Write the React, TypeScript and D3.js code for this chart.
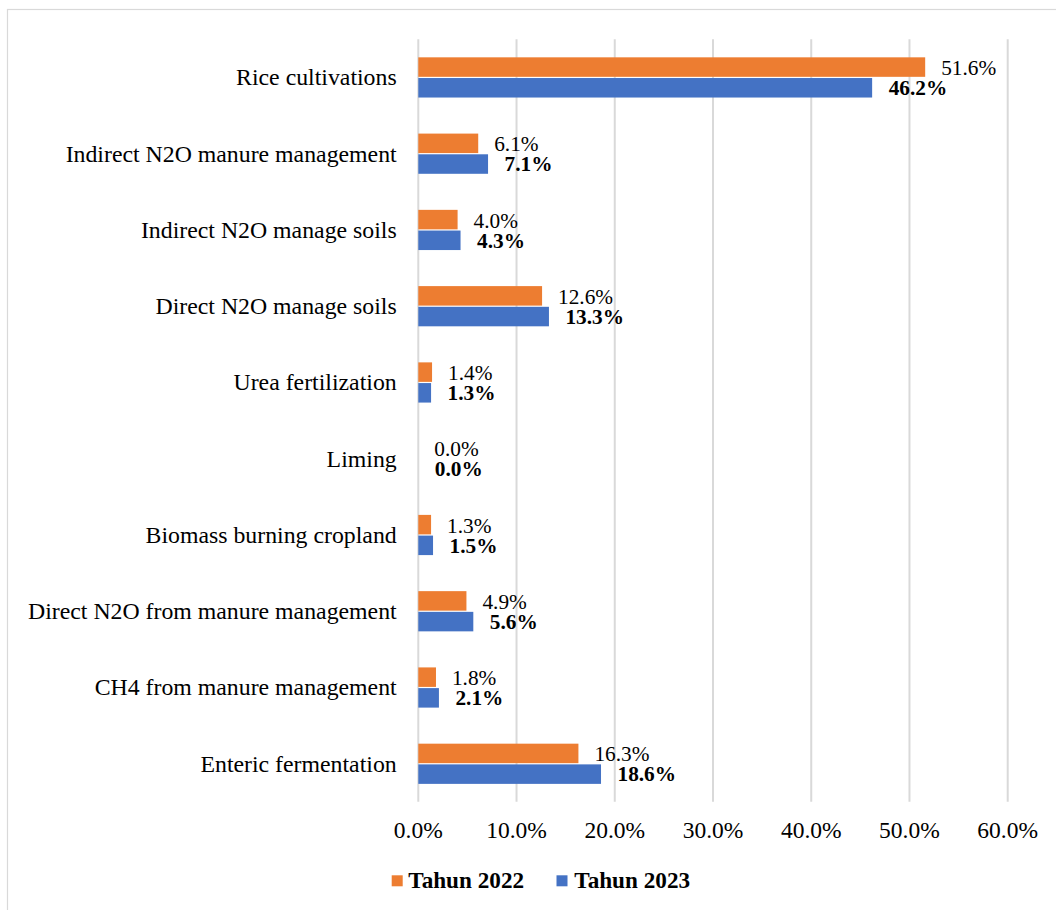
import React from "react";
import * as d3 from "d3";

const categories = [
  "Rice cultivations",
  "Indirect N2O manure management",
  "Indirect N2O manage soils",
  "Direct N2O manage soils",
  "Urea fertilization",
  "Liming",
  "Biomass burning cropland",
  "Direct N2O from manure management",
  "CH4 from manure management",
  "Enteric fermentation",
];
const values2022 = [51.6, 6.1, 4.0, 12.6, 1.4, 0.0, 1.3, 4.9, 1.8, 16.3];
const values2023 = [46.2, 7.1, 4.3, 13.3, 1.3, 0.0, 1.5, 5.6, 2.1, 18.6];
const ticks = [0, 10, 20, 30, 40, 50, 60];
const seriesNames = ["Tahun 2022", "Tahun 2023"];

const ORANGE = "#ED7D31";
const BLUE = "#4472C4";
const GRID = "#d9d9d9";
const FONT = "'Liberation Serif', 'Times New Roman', serif";

export default function App() {
  const W = 1056;
  const H = 910;
  const x = d3.scaleLinear().domain([0, 60]).range([418.3, 1007.7]);
  const y = d3.scaleBand<string>().domain(categories).range([39.2, 801.8]).padding(0);
  const barH = 19.5;
  const fmt = (v: number) => v.toFixed(1) + "%";

  return (
    <svg
      width={W}
      height={H}
      style={{ position: "absolute", left: 0, top: 0, background: "#fff" }}
      fontFamily={FONT}
    >
      <rect x={7.5} y={9.5} width={1200} height={1200} fill="none" stroke={GRID} strokeWidth={1.2} />
      {ticks.map((t) => (
        <line key={t} x1={x(t)} x2={x(t)} y1={39.2} y2={801.8} stroke={GRID} strokeWidth={2} />
      ))}
      {ticks.map((t) => (
        <text key={"t" + t} x={x(t)} y={838.3} textAnchor="middle" fontSize={23.5} fill="#000">
          {t.toFixed(1) + "%"}
        </text>
      ))}
      {categories.map((c, i) => {
        const cy = (y(c) as number) + y.bandwidth() / 2;
        return (
          <g key={c}>
            <text x={396.7} y={cy + 8} textAnchor="end" fontSize={23.8} fill="#000">
              {c}
            </text>
            <rect x={x(0)} y={cy - 20} width={x(values2022[i]) - x(0)} height={barH} fill={ORANGE} />
            <rect x={x(0)} y={cy + 0.7} width={x(values2023[i]) - x(0)} height={barH} fill={BLUE} />
            <text x={x(values2022[i]) + 16} y={cy - 2.3} fontSize={21.3} fill="#000">
              {fmt(values2022[i])}
            </text>
            <text x={x(values2023[i]) + 16.5} y={cy + 17.7} fontSize={21.3} fontWeight="bold" fill="#000">
              {fmt(values2023[i])}
            </text>
          </g>
        );
      })}
      <g>
        <rect x={391.7} y={875.3} width={11} height={11} fill={ORANGE} />
        <text x={408.3} y={888.3} fontSize={23.2} fontWeight="bold" fill="#000">
          {seriesNames[0]}
        </text>
        <rect x={556.5} y={875.3} width={11} height={11} fill={BLUE} />
        <text x={574.3} y={888.3} fontSize={23.2} fontWeight="bold" fill="#000">
          {seriesNames[1]}
        </text>
      </g>
    </svg>
  );
}
